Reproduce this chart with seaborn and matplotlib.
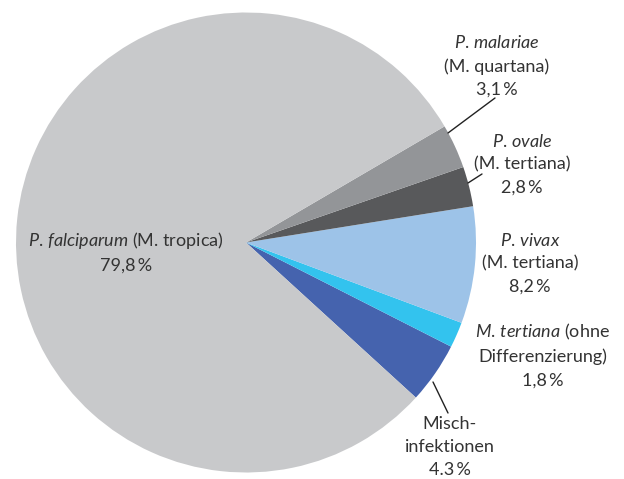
import matplotlib
matplotlib.use('Agg')
import matplotlib.pyplot as plt
import seaborn as sns

# Data (counterclockwise from the lower edge of the "Mischinfektionen" slice)
species = ['Mischinfektionen', 'M. tertiana', 'P. vivax', 'P. ovale', 'P. malariae', 'P. falciparum']
shares = [4.3, 1.8, 8.2, 2.8, 3.1, 79.8]
labels = [
    'Misch-\ninfektionen\n4.3\u2009%',
    '$\\it{M.\\,tertiana}$ (ohne\nDifferenzierung)\n1,8\u2009%',
    '$\\it{P.\\,vivax}$\n(M. tertiana)\n8,2\u2009%',
    '$\\it{P.\\,ovale}$\n(M. tertiana)\n2,8\u2009%',
    '$\\it{P.\\,malariae}$\n(M. quartana)\n3,1\u2009%',
    '$\\it{P.\\,falciparum}$ (M. tropica)\n79,8\u2009%',
]
colors = ['#4563ae', '#33c3ee', '#9dc3e8', '#58595b', '#939598', '#c8c9cb']

sns.set_theme(style='white')
plt.rcParams['font.family'] = ['Lato', 'DejaVu Sans']
plt.rcParams['mathtext.fontset'] = 'custom'
plt.rcParams['mathtext.rm'] = 'Lato'
plt.rcParams['mathtext.it'] = 'Lato:italic'

W, H = 624, 479
cx, cy, R = 246, 242.5, 230

fig = plt.figure(figsize=(W / 100, H / 100), dpi=100)
ax = fig.add_axes([0, 0, 1, 1])
ax.pie(shares, colors=colors, startangle=-42.4, counterclock=True,
       wedgeprops=dict(linewidth=0))
ax.set_xlim(-cx / R, (W - cx) / R)
ax.set_ylim((cy - H) / R, cy / R)
ax.set_aspect('auto')
ax.axis('off')


def pos(x, y):
    return ((x - cx) / R, (cy - y) / R)


# label centres in pixel layout
label_pos = [(450, 447), (543, 355), (530, 263), (522, 164), (497, 66), (126, 252)]
for text, (x, y) in zip(labels, label_pos):
    ax.text(*pos(x, y), text, ha='center', va='center', fontsize=13,
            color='#333333', linespacing=1.52)

# leader lines
leaders = [((433, 382), (448, 413)), ((468, 183), (482, 174)), ((448, 133), (495, 98))]
for a, b in leaders:
    ax.plot(*zip(pos(*a), pos(*b)), color='#222222', lw=1)

fig.savefig('out.png', dpi=100)
